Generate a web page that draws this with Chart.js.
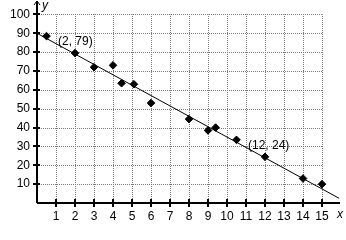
<!DOCTYPE html>
<html>
<head>
<meta charset="utf-8">
<script src="https://cdn.jsdelivr.net/npm/chart.js@4/dist/chart.umd.min.js"></script>
<style>
html,body{margin:0;padding:0;background:#fff;}
#wrap{width:346px;height:240px;position:relative;}
</style>
</head>
<body>
<div id="wrap"><canvas id="c" width="346" height="240"></canvas></div>
<script>
// Data
const pointX = [0.5, 2, 3, 4, 4.45, 5.1, 6, 8, 9, 9.4, 10.5, 12, 14, 15];
const pointY = [88.5, 79.5, 72, 73, 63.5, 63, 53, 44.5, 38.5, 40, 33.5, 24.5, 13, 10];
const lineX = [0, 15.9];
const lineY = [90, 2.5];
const xTicks = [1,2,3,4,5,6,7,8,9,10,11,12,13,14,15];
const yTicks = [10,20,30,40,50,60,70,80,90,100];
const labels = ["(2, 79)", "(12, 24)"];
const labelX = [2, 12];
const labelY = [79, 24];
const gridMaxX = 15, gridMaxY = 100;

const FONT = '"Liberation Sans", Arial, sans-serif';

const decor = {
  id: 'decor',
  beforeDatasetsDraw(chart) {
    const ctx = chart.ctx;
    const xs = chart.scales.x, ys = chart.scales.y;
    const x0 = xs.getPixelForValue(0), y0 = ys.getPixelForValue(0);
    const xr = xs.getPixelForValue(gridMaxX), yt = ys.getPixelForValue(gridMaxY);
    ctx.save();
    ctx.strokeStyle = '#7a7a7a';
    ctx.lineWidth = 1;
    ctx.setLineDash([1, 1]);
    ctx.beginPath();
    for (const t of xTicks) {
      const p = Math.round(xs.getPixelForValue(t)) + 0.5;
      ctx.moveTo(p, y0); ctx.lineTo(p, yt);
    }
    for (const t of yTicks) {
      const p = Math.round(ys.getPixelForValue(t)) + 0.5;
      ctx.moveTo(x0, p); ctx.lineTo(xr, p);
    }
    ctx.stroke();
    ctx.setLineDash([]);
    ctx.strokeStyle = '#000';
    ctx.lineWidth = 2;
    ctx.beginPath();
    const ax = Math.round(x0), ay = Math.round(y0);
    ctx.moveTo(ax, ay); ctx.lineTo(ax, 1);
    ctx.moveTo(ax, ay); ctx.lineTo(chart.width - 6, ay);
    ctx.stroke();
    ctx.lineWidth = 1;
    ctx.beginPath();
    ctx.moveTo(ax - 3, 5); ctx.lineTo(ax, 1); ctx.lineTo(ax + 3, 5);
    ctx.stroke();
    ctx.lineWidth = 2;
    ctx.beginPath();
    for (const t of xTicks) {
      const p = Math.round(xs.getPixelForValue(t));
      ctx.moveTo(p, ay - 4); ctx.lineTo(p, ay + 4);
    }
    for (const t of yTicks) {
      const p = Math.round(ys.getPixelForValue(t));
      ctx.moveTo(ax - 4, p); ctx.lineTo(ax + 3, p);
    }
    ctx.stroke();
    ctx.restore();
  },
  afterDatasetsDraw(chart) {
    const ctx = chart.ctx;
    const xs = chart.scales.x, ys = chart.scales.y;
    ctx.save();
    ctx.fillStyle = '#000';
    ctx.font = '12px ' + FONT;
    ctx.textBaseline = 'middle';
    ctx.textAlign = 'left';
    for (let i = 0; i < labels.length; i++) {
      const px = xs.getPixelForValue(labelX[i]);
      const py = ys.getPixelForValue(labelY[i]);
      ctx.fillText(labels[i], px - 17, py - 12);
    }
    ctx.font = 'italic 12px ' + FONT;
    ctx.fillText('y', xs.getPixelForValue(0) + 5, 6);
    ctx.fillText('x', chart.width - 9, ys.getPixelForValue(0) + 12);
    ctx.restore();
  }
};

new Chart(document.getElementById('c'), {
  type: 'scatter',
  data: {
    datasets: [
      {
        data: pointX.map((x, i) => ({x, y: pointY[i]})),
        pointStyle: 'rectRot',
        radius: 3.8,
        backgroundColor: '#000',
        borderColor: '#000',
        borderWidth: 1,
        order: 1
      },
      {
        type: 'line',
        data: lineX.map((x, i) => ({x, y: lineY[i]})),
        borderColor: '#000',
        borderWidth: 1,
        pointRadius: 0,
        fill: false,
        order: 2
      }
    ]
  },
  options: {
    responsive: false,
    animation: false,
    events: [],
    layout: { padding: { left: 0, right: 5, top: 4, bottom: 0 } },
    plugins: { legend: { display: false }, tooltip: { enabled: false } },
    scales: {
      x: {
        type: 'linear', min: 0, max: 16,
        border: { display: false },
        grid: { display: false, drawTicks: false },
        afterFit(s) { s.height = 37; s.paddingLeft = 0; s.paddingRight = 0; },
        afterBuildTicks(s) { s.ticks = xTicks.map(v => ({value: v})); },
        ticks: { color: '#000', font: { family: FONT, size: 12 }, padding: 6, maxRotation: 0, autoSkip: false }
      },
      y: {
        type: 'linear', min: 0, max: 105,
        border: { display: false },
        grid: { display: false, drawTicks: false },
        afterFit(s) { s.width = 37; s.paddingTop = 0; s.paddingBottom = 0; },
        afterBuildTicks(s) { s.ticks = yTicks.map(v => ({value: v})); },
        ticks: { color: '#000', font: { family: FONT, size: 12 }, padding: 7, autoSkip: false }
      }
    }
  },
  plugins: [decor]
});
</script>
</body>
</html>
